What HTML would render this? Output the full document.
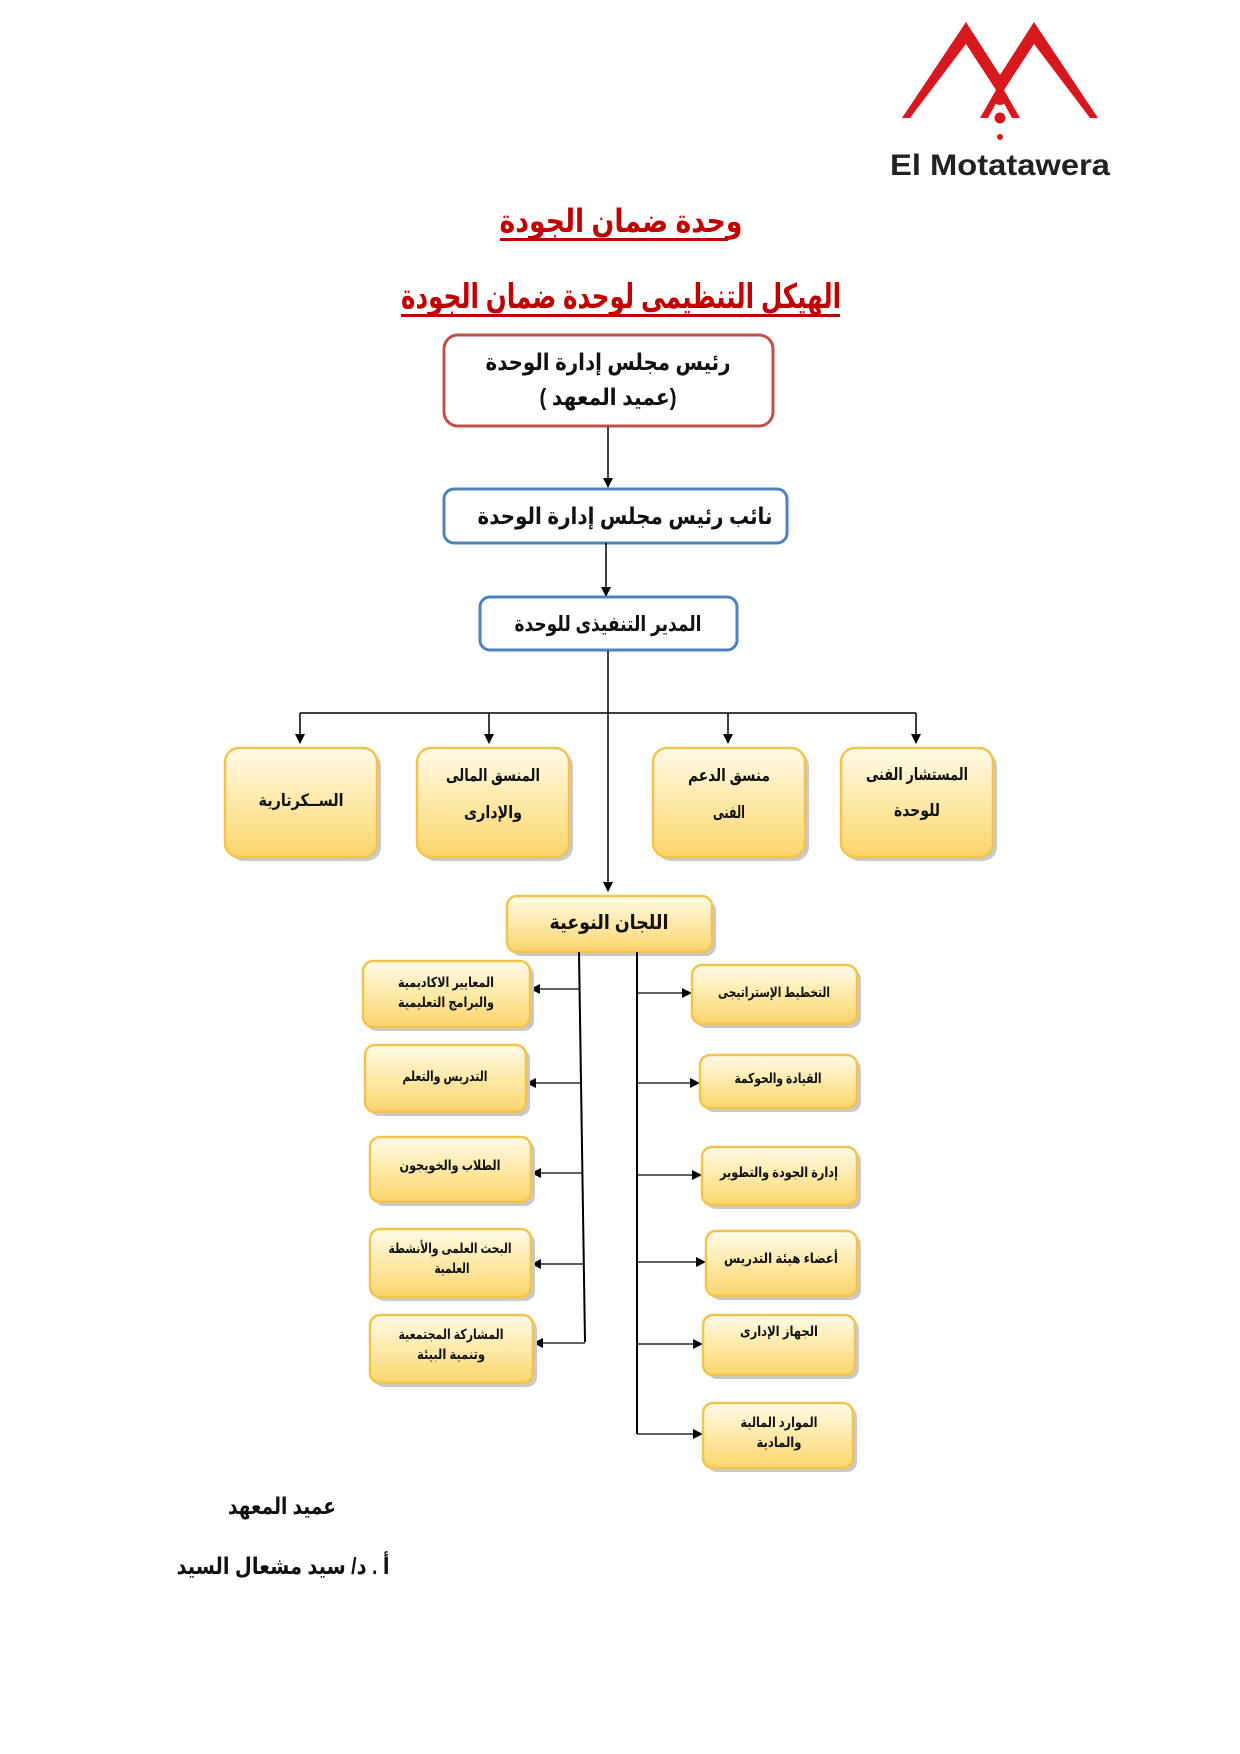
<!DOCTYPE html>
<html><head><meta charset="utf-8"><style>
html,body{margin:0;padding:0;background:#fff;}
svg{display:block;}
text{font-family:"Liberation Sans","DejaVu Sans",sans-serif;font-weight:bold;}
</style></head><body>
<svg width="1240" height="1754" viewBox="0 0 1240 1754" xmlns="http://www.w3.org/2000/svg">
<defs>
<linearGradient id="yg" x1="0" y1="0" x2="0" y2="1">
<stop offset="0" stop-color="#fffbe8"/><stop offset="0.5" stop-color="#fde9a8"/><stop offset="1" stop-color="#fbd56b"/>
</linearGradient>
<marker id="ah" markerWidth="10" markerHeight="10" refX="9" refY="5" orient="auto" markerUnits="userSpaceOnUse">
<path d="M0,0 L10,5 L0,10 z" fill="#000"/>
</marker>
</defs>

<!-- logo -->
<polygon points="902,118 966,22 1000,75 1034,22 1098,118 1090,118 1034,44 1004,90 1020,118 1012,118 1000,96 988,118 980,118 996,90 966,44 910,118" fill="#d7181f"/>
<circle cx="1000" cy="98" r="7" fill="#d7181f"/>
<circle cx="1000" cy="118" r="5.5" fill="#d7181f"/>
<circle cx="1000" cy="137" r="3" fill="#d7181f"/>
<text x="1000" y="175" font-size="30" text-anchor="middle" fill="#222" font-family="Liberation Sans, sans-serif" textLength="220" lengthAdjust="spacingAndGlyphs">El Motatawera</text>

<!-- titles -->
<text x="621" y="232" font-size="32" text-anchor="middle" fill="#c00000" direction="rtl" textLength="243" lengthAdjust="spacingAndGlyphs">وحدة ضمان الجودة</text>
<rect x="500" y="238" width="228" height="3" fill="#c00000"/>
<text x="621" y="308" font-size="34" text-anchor="middle" fill="#c00000" direction="rtl" textLength="440" lengthAdjust="spacingAndGlyphs">الهيكل التنظيمى لوحدة ضمان الجودة</text>
<rect x="401" y="314" width="439" height="3" fill="#c00000"/>

<!-- top boxes -->
<rect x="444" y="335" width="329" height="91" rx="14" fill="#fff" stroke="#c0504d" stroke-width="3"/>
<text x="608" y="370" font-size="23" text-anchor="middle" fill="#111" direction="rtl" textLength="245" lengthAdjust="spacingAndGlyphs">رئيس مجلس إدارة الوحدة</text>
<text x="608" y="405" font-size="23" text-anchor="middle" fill="#111" direction="rtl" textLength="137" lengthAdjust="spacingAndGlyphs">(عميد المعهد )</text>
<line x1="608" y1="427" x2="608" y2="487" stroke="#000" stroke-width="1.5" marker-end="url(#ah)"/>

<rect x="444" y="489" width="343" height="54" rx="10" fill="#fff" stroke="#4f81bd" stroke-width="3"/>
<text x="625" y="524" font-size="23" text-anchor="middle" fill="#111" direction="rtl" textLength="295" lengthAdjust="spacingAndGlyphs">نائب رئيس مجلس إدارة الوحدة</text>
<line x1="606" y1="543" x2="606" y2="596" stroke="#000" stroke-width="1.5" marker-end="url(#ah)"/>

<rect x="480" y="597" width="257" height="53" rx="10" fill="#fff" stroke="#4f81bd" stroke-width="3"/>
<text x="608" y="631" font-size="21" text-anchor="middle" fill="#111" direction="rtl" textLength="187" lengthAdjust="spacingAndGlyphs">المدير التنفيذى للوحدة</text>

<!-- connectors -->
<line x1="608" y1="651" x2="608" y2="891" stroke="#000" stroke-width="1.5" marker-end="url(#ah)"/>
<line x1="300" y1="713" x2="916" y2="713" stroke="#000" stroke-width="1.5"/>
<line x1="300" y1="713" x2="300" y2="743" stroke="#000" stroke-width="1.5" marker-end="url(#ah)"/>
<line x1="489" y1="713" x2="489" y2="743" stroke="#000" stroke-width="1.5" marker-end="url(#ah)"/>
<line x1="728" y1="713" x2="728" y2="743" stroke="#000" stroke-width="1.5" marker-end="url(#ah)"/>
<line x1="916" y1="713" x2="916" y2="743" stroke="#000" stroke-width="1.5" marker-end="url(#ah)"/>

<g stroke="#f2c44e" stroke-width="2.5" fill="url(#yg)">
<rect x="229" y="752" width="152" height="109" rx="14" fill="#c9c9c9" stroke="none"/>
<rect x="225" y="748" width="152" height="109" rx="14"/>
<rect x="421" y="752" width="152" height="109" rx="14" fill="#c9c9c9" stroke="none"/>
<rect x="417" y="748" width="152" height="109" rx="14"/>
<rect x="657" y="752" width="152" height="109" rx="14" fill="#c9c9c9" stroke="none"/>
<rect x="653" y="748" width="152" height="109" rx="14"/>
<rect x="845" y="752" width="152" height="109" rx="14" fill="#c9c9c9" stroke="none"/>
<rect x="841" y="748" width="152" height="109" rx="14"/>
<rect x="511" y="900" width="205" height="56" rx="10" fill="#c9c9c9" stroke="none"/>
<rect x="507" y="896" width="205" height="56" rx="10"/>
</g>
<g font-size="17" fill="#111" text-anchor="middle" direction="rtl" lengthAdjust="spacingAndGlyphs">
<text x="301" y="806" textLength="85" lengthAdjust="spacingAndGlyphs">الســكرتارية</text>
<text x="493" y="781" textLength="94" lengthAdjust="spacingAndGlyphs">المنسق المالى</text>
<text x="493" y="818" textLength="58" lengthAdjust="spacingAndGlyphs">والإدارى</text>
<text x="729" y="781" textLength="82" lengthAdjust="spacingAndGlyphs">منسق الدعم</text>
<text x="729" y="818" textLength="32" lengthAdjust="spacingAndGlyphs">الفنى</text>
<text x="917" y="780" textLength="102" lengthAdjust="spacingAndGlyphs">المستشار الفنى</text>
<text x="917" y="816" textLength="46" lengthAdjust="spacingAndGlyphs">للوحدة</text>
<text x="609" y="929" font-size="20" textLength="119" lengthAdjust="spacingAndGlyphs">اللجان النوعية</text>
</g>

<!-- committee lines -->
<line x1="579" y1="952" x2="585" y2="1342" stroke="#000" stroke-width="2"/>
<line x1="637" y1="952" x2="637" y2="1434" stroke="#000" stroke-width="2"/>
<g stroke="#000" stroke-width="1.2" marker-end="url(#ah)">
<line x1="580" y1="989" x2="531" y2="989"/>
<line x1="580" y1="1083" x2="527" y2="1083"/>
<line x1="582" y1="1173" x2="532" y2="1173"/>
<line x1="583" y1="1264" x2="532" y2="1264"/>
<line x1="585" y1="1343" x2="534" y2="1343"/>
<line x1="637" y1="993" x2="691" y2="993"/>
<line x1="637" y1="1083" x2="699" y2="1083"/>
<line x1="637" y1="1175" x2="701" y2="1175"/>
<line x1="637" y1="1262" x2="705" y2="1262"/>
<line x1="637" y1="1344" x2="702" y2="1344"/>
<line x1="637" y1="1434" x2="702" y2="1434"/>
</g>

<g stroke="#f2c44e" stroke-width="2.5" fill="url(#yg)">
<rect x="367" y="965" width="167" height="66" rx="10" fill="#c9c9c9" stroke="none"/><rect x="363" y="961" width="167" height="66" rx="10"/>
<rect x="369" y="1049" width="161" height="67" rx="10" fill="#c9c9c9" stroke="none"/><rect x="365" y="1045" width="161" height="67" rx="10"/>
<rect x="374" y="1141" width="161" height="65" rx="10" fill="#c9c9c9" stroke="none"/><rect x="370" y="1137" width="161" height="65" rx="10"/>
<rect x="374" y="1233" width="161" height="68" rx="10" fill="#c9c9c9" stroke="none"/><rect x="370" y="1229" width="161" height="68" rx="10"/>
<rect x="374" y="1319" width="163" height="68" rx="10" fill="#c9c9c9" stroke="none"/><rect x="370" y="1315" width="163" height="68" rx="10"/>
<rect x="696" y="969" width="165" height="59" rx="10" fill="#c9c9c9" stroke="none"/><rect x="692" y="965" width="165" height="59" rx="10"/>
<rect x="704" y="1059" width="157" height="53" rx="10" fill="#c9c9c9" stroke="none"/><rect x="700" y="1055" width="157" height="53" rx="10"/>
<rect x="706" y="1151" width="155" height="58" rx="10" fill="#c9c9c9" stroke="none"/><rect x="702" y="1147" width="155" height="58" rx="10"/>
<rect x="710" y="1235" width="151" height="65" rx="10" fill="#c9c9c9" stroke="none"/><rect x="706" y="1231" width="151" height="65" rx="10"/>
<rect x="707" y="1319" width="152" height="60" rx="10" fill="#c9c9c9" stroke="none"/><rect x="703" y="1315" width="152" height="60" rx="10"/>
<rect x="707" y="1407" width="150" height="65" rx="10" fill="#c9c9c9" stroke="none"/><rect x="703" y="1403" width="150" height="65" rx="10"/>
</g>
<g font-size="14" fill="#111" text-anchor="middle" direction="rtl">
<text x="446" y="987" textLength="96" lengthAdjust="spacingAndGlyphs">المعايير الاكاديمية</text>
<text x="446" y="1007" textLength="96" lengthAdjust="spacingAndGlyphs">والبرامج التعليمية</text>
<text x="445" y="1081" textLength="85" lengthAdjust="spacingAndGlyphs">التدريس والتعلم</text>
<text x="450" y="1170" textLength="101" lengthAdjust="spacingAndGlyphs">الطلاب والخويجون</text>
<text x="450" y="1253" textLength="123" lengthAdjust="spacingAndGlyphs">البحث العلمى والأنشطة</text>
<text x="452" y="1273" textLength="35" lengthAdjust="spacingAndGlyphs">العلمية</text>
<text x="451" y="1339" textLength="105" lengthAdjust="spacingAndGlyphs">المشاركة المجتمعية</text>
<text x="451" y="1359" textLength="68" lengthAdjust="spacingAndGlyphs">وتنمية البيئة</text>
<text x="774" y="997" textLength="112" lengthAdjust="spacingAndGlyphs">التخطيط الإستراتيجى</text>
<text x="778" y="1083" textLength="87" lengthAdjust="spacingAndGlyphs">القيادة والحوكمة</text>
<text x="779" y="1177" textLength="118" lengthAdjust="spacingAndGlyphs">إدارة الجودة والتطوير</text>
<text x="781" y="1263" textLength="114" lengthAdjust="spacingAndGlyphs">أعضاء هيئة التدريس</text>
<text x="779" y="1336" textLength="78" lengthAdjust="spacingAndGlyphs">الجهاز الإدارى</text>
<text x="779" y="1427" textLength="77" lengthAdjust="spacingAndGlyphs">الموارد المالية</text>
<text x="779" y="1447" textLength="45" lengthAdjust="spacingAndGlyphs">والمادية</text>
</g>

<!-- footer -->
<text x="282" y="1514" font-size="23" text-anchor="middle" fill="#111" direction="rtl" textLength="108" lengthAdjust="spacingAndGlyphs">عميد المعهد</text>
<text x="283" y="1574" font-size="23" text-anchor="middle" fill="#111" direction="rtl" textLength="213" lengthAdjust="spacingAndGlyphs">أ . د/ سيد مشعال السيد</text>
</svg>
</body></html>
